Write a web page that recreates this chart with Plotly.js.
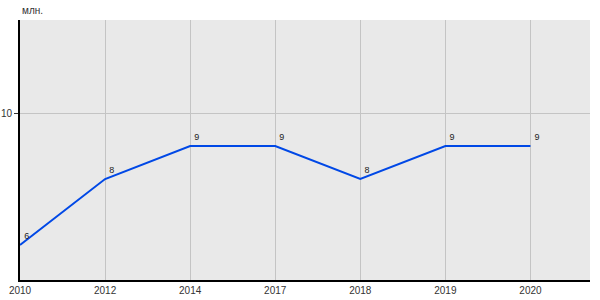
<!DOCTYPE html>
<html>
<head>
<meta charset="utf-8">
<script src="https://cdn.plot.ly/plotly-3.0.1.min.js"></script>
<style>html,body{margin:0;padding:0;background:#fff;}#chart{width:600px;height:300px;}</style>
</head>
<body>
<div id="chart"></div>
<script>
const years = ['2010', '2012', '2014', '2017', '2018', '2019', '2020'];
const values = [6, 8, 9, 9, 8, 9, 9];
const valueLabels = ['6', '8', '9', '9', '8', '9', '9'];
const unitLabel = 'млн.';

const trace = {
  x: years,
  y: values,
  type: 'scatter',
  mode: 'lines+markers+text',
  marker: {size: 5, opacity: 0, color: '#0048e6'},
  text: valueLabels,
  textposition: 'top right',
  textfont: {family: 'Liberation Sans, Arial, sans-serif', size: 9, color: '#222'},
  line: {color: '#0048e6', width: 2},
  hoverinfo: 'none',
  cliponaxis: false
};

const layout = {
  width: 600, height: 300,
  margin: {l: 20, r: 10, t: 20, b: 20},
  paper_bgcolor: '#ffffff',
  plot_bgcolor: '#e9e9e9',
  showlegend: false,
  font: {family: 'Liberation Sans, Arial, sans-serif', size: 10, color: '#333'},
  xaxis: {
    type: 'category',
    range: [0, 6.7],
    showgrid: true, gridcolor: '#c4c4c4', gridwidth: 1,
    showline: true, linecolor: '#000', linewidth: 2,
    ticks: '', tickfont: {size: 10, color: '#333'},
    zeroline: false, fixedrange: true
  },
  yaxis: {
    range: [4.94, 12.82],
    tickvals: [10], ticktext: ['10'],
    showgrid: true, gridcolor: '#c4c4c4', gridwidth: 1,
    showline: true, linecolor: '#000', linewidth: 2,
    ticks: 'outside', ticklen: 4, tickcolor: '#333',
    tickfont: {size: 10, color: '#333'},
    zeroline: false, fixedrange: true
  },
  annotations: [{
    text: unitLabel, xref: 'paper', yref: 'paper', x: 0, y: 1,
    xanchor: 'left', yanchor: 'bottom', yshift: 2, showarrow: false,
    font: {size: 10, color: '#333'}
  }]
};

Plotly.newPlot('chart', [trace], layout, {staticPlot: true, displayModeBar: false});
</script>
</body>
</html>
